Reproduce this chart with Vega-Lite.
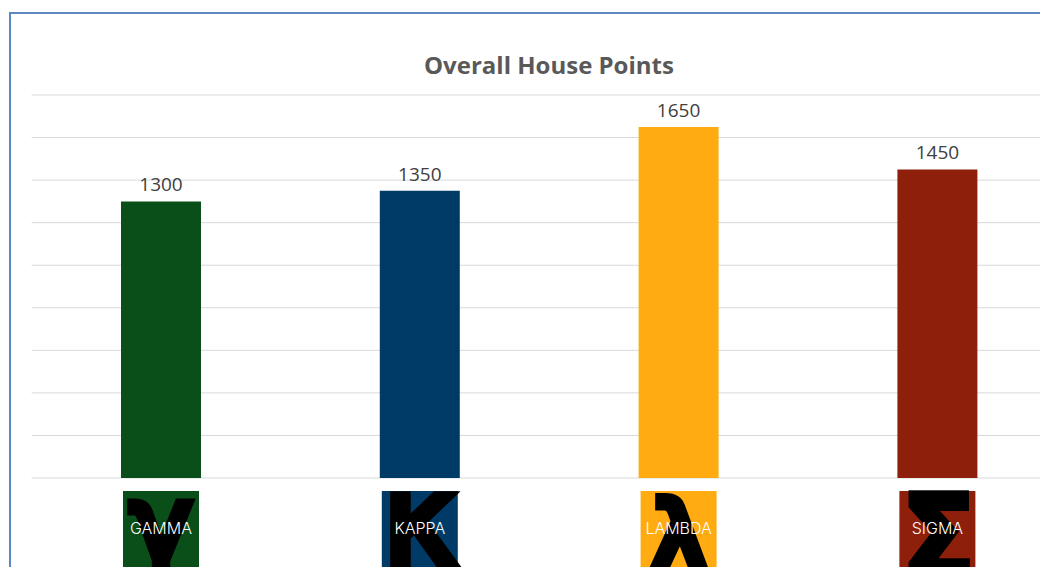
{"$schema":"https://vega.github.io/schema/vega-lite/v6.json","width":1100,"height":600,"autosize":"none","padding":{"left":10,"top":13,"right":0,"bottom":0},"background":"white","config":{"view":{"stroke":"#5B87C5","strokeWidth":2,"fill":"white"}},"title":{"text":"Overall House Points","font":"Open Sans","fontSize":24,"fontWeight":"bold","color":"#595959","anchor":"start","frame":"group","dx":414,"dy":70},"datasets":{"houses":[{"house":"GAMMA","points":1300,"letter":"γ"},{"house":"KAPPA","points":1350,"letter":"κ"},{"house":"LAMBDA","points":1650,"letter":"λ"},{"house":"SIGMA","points":1450,"letter":"Σ"}],"grid":[{"v":0},{"v":200},{"v":400},{"v":600},{"v":800},{"v":1000},{"v":1200},{"v":1400},{"v":1600},{"v":1800}]},"layer":[{"data":{"name":"grid"},"mark":{"type":"rule","color":"#D9D9D9","strokeWidth":1},"encoding":{"y":{"field":"v","type":"quantitative","scale":{"domain":[-634.5,2185.4],"nice":false,"zero":false},"axis":null},"x":{"datum":"GAMMA","type":"nominal","bandPosition":0,"scale":{"domain":["GAMMA","KAPPA","LAMBDA","SIGMA"," "],"range":[21.6,1315.6],"paddingInner":0,"paddingOuter":0},"axis":null},"x2":{"datum":" "}}},{"data":{"name":"houses"},"mark":{"type":"bar","size":80},"encoding":{"x":{"field":"house","type":"nominal"},"y":{"field":"points","type":"quantitative"},"y2":{"datum":0},"color":{"field":"house","type":"nominal","legend":null,"scale":{"domain":["GAMMA","KAPPA","LAMBDA","SIGMA"],"range":["#0A4F1A","#003B67","#FFAB11","#8E200B"]}}}},{"data":{"name":"houses"},"mark":{"type":"text","font":"Open Sans","fontSize":19,"color":"#404040","baseline":"bottom","dy":-6},"encoding":{"x":{"field":"house","type":"nominal"},"y":{"field":"points","type":"quantitative"},"text":{"field":"points","type":"quantitative"}}},{"data":{"name":"houses"},"mark":{"type":"bar","size":76},"encoding":{"x":{"field":"house","type":"nominal"},"y":{"datum":-61},"y2":{"datum":-600},"color":{"field":"house","type":"nominal","legend":null}}},{"data":{"name":"houses"},"transform":[{"filter":"datum.house === 'GAMMA'"}],"mark":{"type":"text","font":"DejaVu Sans","fontSize":105,"color":"black","stroke":"black","strokeWidth":9,"baseline":"middle","dy":-14},"encoding":{"x":{"field":"house","type":"nominal"},"y":{"datum":-300},"text":{"field":"letter","type":"nominal"}}},{"data":{"name":"houses"},"transform":[{"filter":"datum.house === 'KAPPA'"}],"mark":{"type":"text","font":"DejaVu Sans","fontSize":125,"color":"black","stroke":"black","strokeWidth":9,"baseline":"middle","dy":-16},"encoding":{"x":{"field":"house","type":"nominal"},"y":{"datum":-300},"text":{"field":"letter","type":"nominal"}}},{"data":{"name":"houses"},"transform":[{"filter":"datum.house === 'LAMBDA'"}],"mark":{"type":"text","font":"DejaVu Sans","fontSize":100,"color":"black","stroke":"black","strokeWidth":10,"baseline":"middle","dy":2},"encoding":{"x":{"field":"house","type":"nominal"},"y":{"datum":-300},"text":{"field":"letter","type":"nominal"}}},{"data":{"name":"houses"},"transform":[{"filter":"datum.house === 'SIGMA'"}],"mark":{"type":"text","font":"DejaVu Sans","fontSize":105,"color":"black","stroke":"black","strokeWidth":12,"baseline":"middle","dy":-1},"encoding":{"x":{"field":"house","type":"nominal"},"y":{"datum":-300},"text":{"field":"letter","type":"nominal"}}},{"data":{"name":"houses"},"mark":{"type":"text","font":"Inter","fontSize":16,"fontWeight":300,"color":"white","baseline":"middle"},"encoding":{"x":{"field":"house","type":"nominal"},"y":{"datum":-240},"text":{"field":"house","type":"nominal"}}}]}
